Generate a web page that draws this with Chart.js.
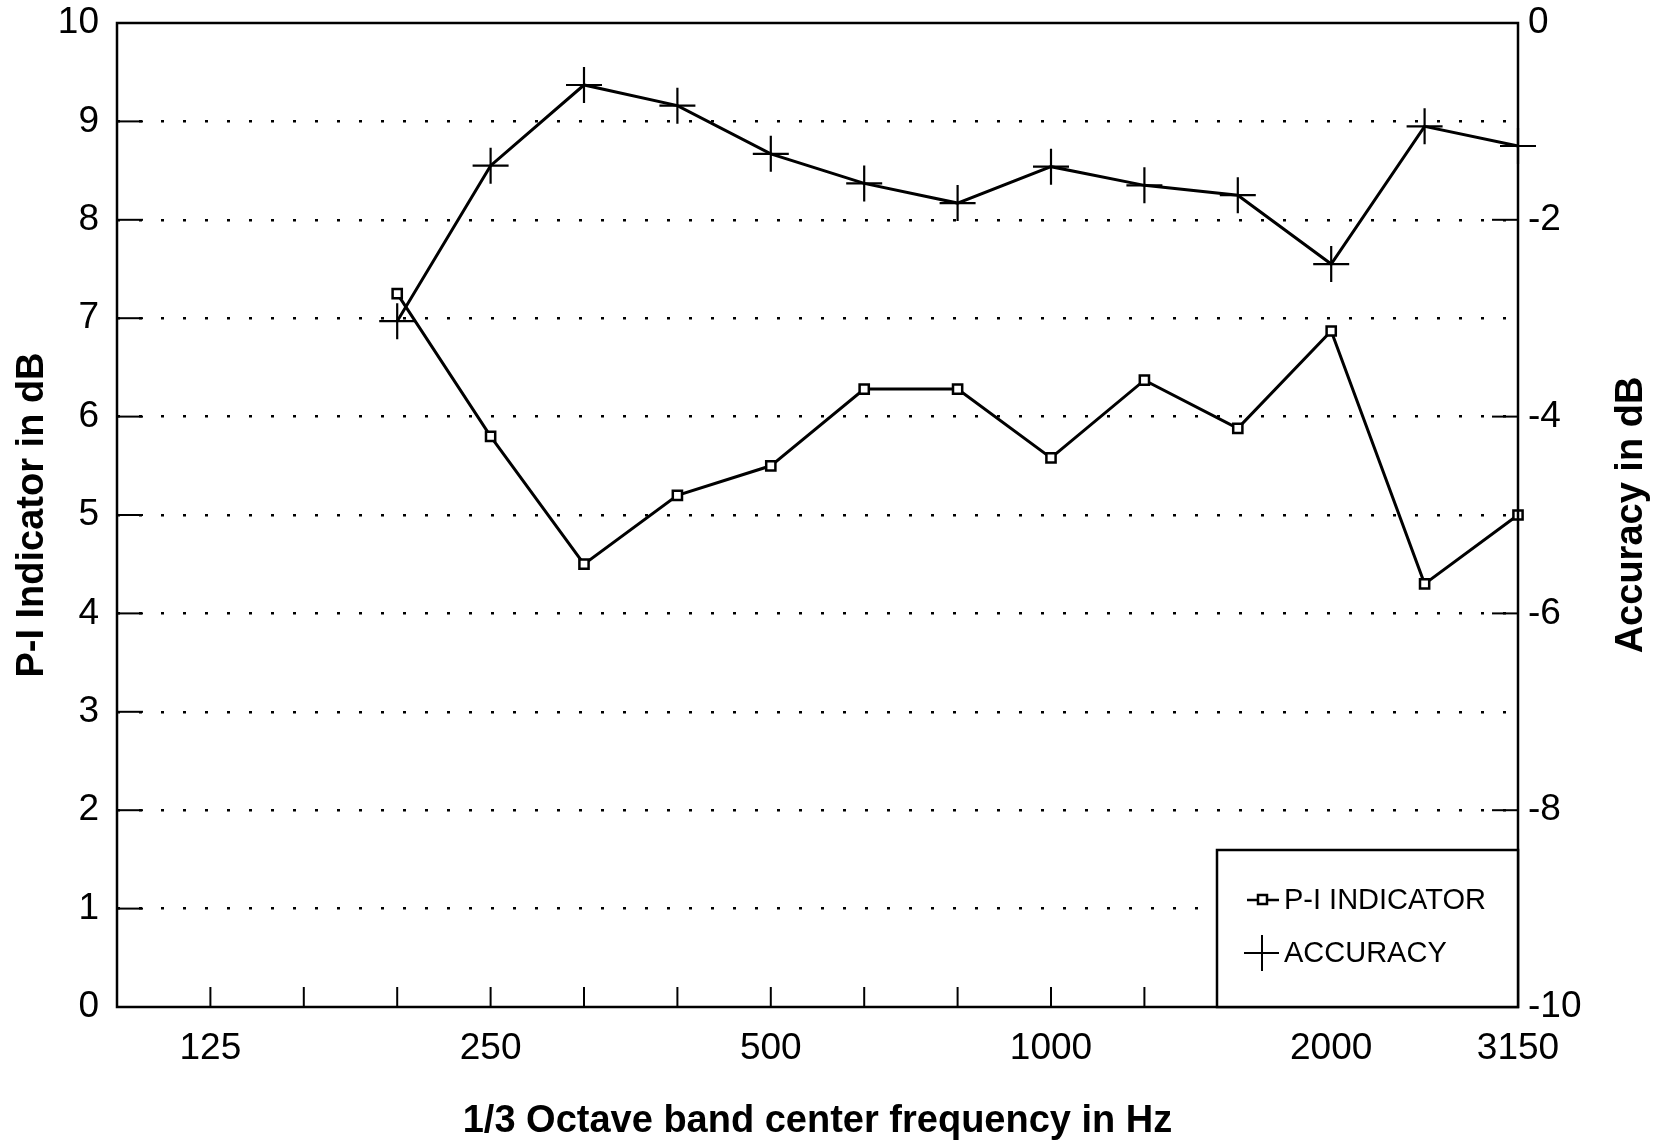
<!DOCTYPE html>
<html><head><meta charset="utf-8">
<script src="https://cdn.jsdelivr.net/npm/chart.js@4.4.0/dist/chart.umd.min.js"></script>
<style>html,body{margin:0;padding:0;background:#fff}#wrap{width:1664px;height:1142px}</style>
</head><body><div id="wrap"><canvas id="c" width="1664" height="1142"></canvas></div>
<script>
const frequencies = ['100','125','160','200','250','315','400','500','630','800','1000','1250','1600','2000','2500','3150'];
const labeledTicks = ['125','250','500','1000','2000','3150'];
const piIndicator = [null,null,null,7.25,5.8,4.5,5.2,5.5,6.28,6.28,5.58,6.37,5.88,6.87,4.3,5.0];
const accuracy = [null,null,null,-3.03,-1.45,-0.63,-0.84,-1.33,-1.63,-1.83,-1.46,-1.65,-1.75,-2.45,-1.05,-1.25];
const seriesNames = ['P-I INDICATOR','ACCURACY'];
const xTitle = '1/3 Octave band center frequency in Hz';
const leftTitle = 'P-I Indicator in dB';
const rightTitle = 'Accuracy in dB';

const FONT = '"Liberation Sans", Arial, Helvetica, sans-serif';
Chart.defaults.font.family = FONT;
Chart.defaults.color = '#000';

const framePlugin = {
  id: 'frame',
  afterDraw(chart) {
    const {ctx, chartArea: a, scales} = chart;
    ctx.save();
    ctx.strokeStyle = '#000';
    ctx.lineCap = 'butt';
    ctx.lineWidth = 2;
    scales.y.ticks.forEach(t => {
      if (t.value <= 0 || t.value >= 10) return;
      const py = scales.y.getPixelForValue(t.value);
      ctx.beginPath(); ctx.moveTo(a.left, py); ctx.lineTo(a.left + 26, py); ctx.stroke();
    });
    scales.y2.ticks.forEach(t => {
      if (t.value <= -10 || t.value >= 0) return;
      const py = scales.y2.getPixelForValue(t.value);
      ctx.beginPath(); ctx.moveTo(a.right - 26, py); ctx.lineTo(a.right, py); ctx.stroke();
    });
    for (let i = 1; i < frequencies.length - 1; i++) {
      const px = scales.x.getPixelForValue(i);
      ctx.beginPath(); ctx.moveTo(px, a.bottom); ctx.lineTo(px, a.bottom - 20); ctx.stroke();
    }
    ctx.lineWidth = 2.5;
    ctx.strokeRect(a.left, a.top, a.right - a.left, a.bottom - a.top);
    const bx = a.right - 301, by = a.bottom - 157;
    ctx.fillStyle = '#fff';
    ctx.fillRect(bx, by, a.right - bx, a.bottom - by);
    ctx.strokeRect(bx, by, a.right - bx, a.bottom - by);
    ctx.fillStyle = '#000';
    ctx.font = '29px ' + FONT;
    ctx.textBaseline = 'middle';
    ctx.textAlign = 'left';
    let ly = by + 50;
    ctx.lineWidth = 2.5;
    ctx.beginPath(); ctx.moveTo(bx + 30, ly); ctx.lineTo(bx + 62, ly); ctx.stroke();
    ctx.fillStyle = '#fff';
    ctx.fillRect(bx + 41, ly - 5, 9, 9);
    ctx.strokeRect(bx + 41, ly - 5, 9, 9);
    ctx.fillStyle = '#000';
    ctx.fillText(chart.data.datasets[0].label, bx + 67, ly + 1);
    ly = by + 103;
    ctx.lineWidth = 2;
    ctx.beginPath(); ctx.moveTo(bx + 27, ly); ctx.lineTo(bx + 62, ly);
    ctx.moveTo(bx + 45, ly - 18); ctx.lineTo(bx + 45, ly + 18); ctx.stroke();
    ctx.fillText(chart.data.datasets[1].label, bx + 67, ly + 1);
    ctx.font = 'bold 38px ' + FONT;
    ctx.textAlign = 'center';
    ctx.translate(1632, (a.top + a.bottom) / 2);
    ctx.rotate(-Math.PI / 2);
    ctx.fillText(rightTitle, 0, 0);
    ctx.restore();
  }
};

new Chart(document.getElementById('c'), {
  type: 'line',
  data: {
    labels: frequencies,
    datasets: [
      {
        label: seriesNames[0], data: piIndicator, yAxisID: 'y',
        borderColor: '#000', borderWidth: 3, tension: 0,
        pointStyle: 'rect', pointRadius: 6.5, pointBorderWidth: 2.5,
        pointBackgroundColor: '#fff', pointBorderColor: '#000'
      },
      {
        label: seriesNames[1], data: accuracy, yAxisID: 'y2',
        borderColor: '#000', borderWidth: 3, tension: 0,
        pointStyle: 'cross', pointRadius: 18, pointBorderWidth: 2.2,
        pointBackgroundColor: '#000', pointBorderColor: '#000'
      }
    ]
  },
  options: {
    responsive: false, animation: false,
    layout: { padding: { top: 23, left: 0, right: 0, bottom: 0 } },
    plugins: { legend: { display: false }, tooltip: { enabled: false } },
    scales: {
      x: {
        type: 'category', offset: false,
        grid: { display: false, drawTicks: false },
        border: { display: false },
        ticks: {
          autoSkip: false, maxRotation: 0, padding: 20, font: { size: 37 }, color: '#000',
          callback: (v, i) => labeledTicks.includes(frequencies[i]) ? frequencies[i] : ''
        },
        title: { display: true, text: xTitle, font: { size: 38, weight: 'bold', lineHeight: 1.0 }, padding: { top: 0, bottom: 1 }, color: '#000' },
        afterFit: s => { s.height = 135; s.paddingLeft = 0; s.paddingRight = 0; }
      },
      y: {
        position: 'left', min: 0, max: 10,
        ticks: { stepSize: 1, padding: 18, font: { size: 37 }, color: '#000' },
        grid: { drawTicks: false, lineWidth: 2.5, color: c => (c.tick && (c.tick.value === 0 || c.tick.value === 10)) ? 'rgba(0,0,0,0)' : '#000' },
        border: { display: false, dash: [3, 19] },
        title: { display: true, text: leftTitle, font: { size: 38, weight: 'bold' }, padding: { top: 10, bottom: 0 }, color: '#000' },
        afterFit: s => { s.width = 117; s.paddingTop = 0; s.paddingBottom = 0; }
      },
      y2: {
        position: 'right', min: -10, max: 0,
        ticks: { stepSize: 2, padding: 10, font: { size: 37 }, color: '#000' },
        grid: { drawOnChartArea: false, drawTicks: false },
        border: { display: false },
        afterFit: s => { s.width = 146; s.paddingTop = 0; s.paddingBottom = 0; }
      }
    }
  },
  plugins: [framePlugin]
});
</script></body></html>
